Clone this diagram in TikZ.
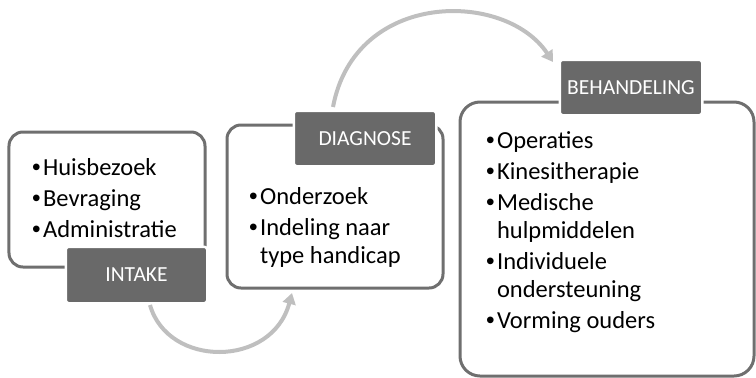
\documentclass[tikz,border=0pt]{standalone}
\usepackage{fontspec}
\setmainfont{Carlito}
\newfontfamily\bulletfont{Liberation Sans}
\usetikzlibrary{arrows.meta}
\definecolor{framegray}{HTML}{6F6F6F}
\definecolor{taggray}{HTML}{696969}
\definecolor{arrowgray}{HTML}{BFBFBF}
\newcommand{\bul}{{\bulletfont •}\hspace{2.5bp}}
\newcommand{\nobul}{\phantom{\bul}}
\begin{document}
\begin{tikzpicture}[x=1bp,y=-1bp,
  frame/.style={draw=framegray, line width=3bp, rounded corners=14bp, inner sep=0, outer sep=0},
  tag/.style={fill=taggray, draw=white, line width=2.5bp, rounded corners=3bp, text=white,
    font=\fontsize{21.5bp}{25bp}\selectfont, inner sep=0, outer sep=0},
  item/.style={anchor=base west, inner sep=0, outer sep=0, font=\fontsize{24.5bp}{29bp}\selectfont},
  flow/.style={draw=arrowgray, line width=4bp, -{Triangle[length=11bp,width=13bp]}}]
\useasboundingbox (0,0) rectangle (756,377);

% frames
\node[frame, minimum width=196bp, minimum height=135bp] (box1) at (107,199.5) {};
\node[frame, minimum width=216bp, minimum height=163bp] (box2) at (335,206.5) {};
\node[frame, rounded corners=20bp, minimum width=294bp, minimum height=274bp] (box3) at (607,239) {};

% tags
\node[tag, minimum width=141.5bp, minimum height=56.5bp] (intake) at (136.5,275) {INTAKE};
\node[tag, minimum width=142.5bp, minimum height=55.5bp] (diagnose) at (365,138.5) {DIAGNOSE};
\node[tag, minimum width=142.5bp, minimum height=55.5bp] (behandeling) at (631,87.5) {BEHANDELING};

% box 1 items
\node[item] (i1) at (32,175) {\bul Huisbezoek};
\node[item] (i2) at (32,206) {\bul Bevraging};
\node[item] (i3) at (32,237) {\bul Administratie};

% box 2 items
\node[item] (d1) at (249,204) {\bul Onderzoek};
\node[item] (d2) at (249,235) {\bul Indeling naar};
\node[item] (d3) at (249,263) {\nobul type handicap};

% box 3 items
\node[item] (b1) at (486,148) {\bul Operaties};
\node[item] (b2) at (486,179) {\bul Kinesitherapie};
\node[item] (b3) at (486,210) {\bul Medische};
\node[item] (b4) at (486,238) {\nobul hulpmiddelen};
\node[item] (b5) at (486,269) {\bul Individuele};
\node[item] (b6) at (486,297) {\nobul ondersteuning};
\node[item] (b7) at (486,328) {\bul Vorming ouders};

% arrows
\coordinate (a1s) at (150,305);
\coordinate (a1e) at (292,293);
\draw[flow] (a1s) .. controls (168,368) and (272,368) .. (a1e);
\coordinate (a2s) at (333,107);
\coordinate (a2e) at (553,62);
\draw[flow] (a2s) .. controls (355,-10) and (505,-10) .. (a2e);
\end{tikzpicture}
\end{document}
